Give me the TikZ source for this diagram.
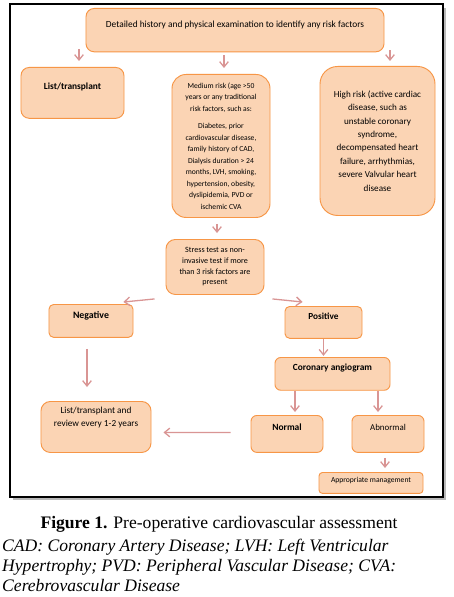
\documentclass[tikz,border=0pt]{standalone}
\usepackage{fontspec}
\setmainfont{Liberation Serif}
\newfontfamily\boxfont{Carlito}
\usetikzlibrary{arrows.meta,positioning,calc}
\definecolor{boxfill}{HTML}{FBD4B4}
\definecolor{boxline}{HTML}{F79646}
\definecolor{arrowc}{HTML}{D99594}

\begin{document}
\begin{tikzpicture}[x=0.03cm, y=-0.03cm,
  box/.style={draw=boxline, fill=boxfill, line width=0.8pt, rounded corners=7pt, align=center, anchor=north, inner xsep=2pt, font=\boxfont\fontsize{8}{11}\selectfont},
  tbox/.style={box, inner ysep=0pt},
  bfont/.style={font=\boxfont\bfseries\fontsize{#1}{11}\selectfont},
  arr/.style={-{Straight Barb[length=1.6mm,width=2.6mm]}, draw=arrowc, line width=1.1pt}
]
\useasboundingbox (0,0) rectangle (453,597);
% frame with its shadow
\fill[gray!55] (13,8) rectangle (446,500);
\draw[fill=white, line width=0.9pt] (10,4) rectangle (443,497);

% first row
\node[tbox, minimum width=8.94cm, text height=16pt, text depth=21pt] (hist) at (235,8) {Detailed history and physical examination to identify any risk factors};
\node[tbox, minimum width=3.09cm, text height=18.7pt, text depth=24.7pt, bfont=8] (list) at (72.5,67) {List/transplant};
\node[box, minimum width=2.94cm, minimum height=4.29cm, rounded corners=12pt, font=\boxfont\fontsize{6.5}{9.8}\selectfont] (medium) at (221,74) {Medium risk (age >50\\years or any traditional\\risk factors, such as:\\[5pt]Diabetes, prior\\cardiovascular disease,\\family history of CAD,\\Dialysis duration > 24\\months, LVH, smoking,\\hypertension, obesity,\\dyslipidemia, PVD or\\ischemic CVA};
\node[box, minimum width=3.45cm, minimum height=4.47cm, rounded corners=15pt, font=\boxfont\fontsize{7.8}{11.4}\selectfont] (high) at (377.5,66) {High risk (active cardiac\\disease, such as\\unstable coronary\\syndrome,\\decompensated heart\\failure, arrhythmias,\\severe Valvular heart\\disease};

% stress test and its results
\node[box, minimum width=2.94cm, minimum height=1.65cm, rounded corners=8pt, font=\boxfont\fontsize{6.9}{9.1}\selectfont] (stress) at (215,239) {Stress test as non-\\invasive test if more\\than 3 risk factors are\\present};
\node[tbox, minimum width=2.52cm, text height=11.9pt, text depth=16.2pt, rounded corners=4pt, bfont=8.4] (negative) at (91,304) {Negative};
\node[tbox, minimum width=2.31cm, text height=11pt, text depth=16.2pt, rounded corners=4pt, bfont=7.9] (positive) at (323.5,306) {Positive};
\node[tbox, minimum width=3.45cm, text height=11pt, text depth=17pt, rounded corners=5pt, bfont=8] (coronary) at (332.5,357) {Coronary angiogram};

% last row
\node[box, minimum width=3.3cm, minimum height=1.53cm, rounded corners=8pt, font=\boxfont\fontsize{7.9}{11}\selectfont] (listrev) at (96,401) {List/transplant and\\review every 1-2 years\\[6pt]};
\node[tbox, minimum width=2.16cm, text height=12.8pt, text depth=18.7pt, rounded corners=5pt, bfont=8.1] (normal) at (287,415) {Normal};
\node[tbox, minimum width=2.16cm, text height=12.8pt, text depth=18.7pt, rounded corners=5pt, font=\boxfont\fontsize{7.6}{11}\selectfont] (abnormal) at (388,415) {Abnormal};
\node[tbox, minimum width=3.12cm, text height=8.5pt, text depth=9.4pt, rounded corners=3pt, font=\boxfont\fontsize{6.5}{8}\selectfont] (appr) at (371,472) {Appropriate management};

% connectors
\draw[arr] ($(hist.south -| list.north)+(6.5,-3)$) -- ($(list.north)+(6.5,-6)$);
\draw[arr] ($(hist.south -| medium.north)+(3,3)$) -- ($(medium.north)+(3,-6)$);
\draw[arr] ($(hist.south -| high.north)+(12.5,-2)$) -- ($(high.north)+(12.5,-5)$);
\draw[arr] ($(medium.south -| stress.north)+(2,6)$) -- ($(stress.north)+(2,-6)$);
\draw[arr] ($(stress.south west)+(-11,4)$) -- ($(negative.north east)+(-10,-2)$);
\draw[arr] ($(stress.south east)+(8,4)$) -- ($(positive.north west)+(18,-4)$);
\draw[arr] ($(negative.south)+(-4,11)$) -- ($(listrev.north)+(-9,-14)$);
\draw[arr, shorten >=1pt] (positive.south) -- (positive.south |- coronary.north);
\draw[arr] ($(coronary.south -| normal.north)+(8,0)$) -- ($(normal.north)+(8,-3)$);
\draw[arr] ($(coronary.south -| abnormal.north)+(-10,0)$) -- ($(abnormal.north)+(-10,-3)$);
\draw[arr] ($(normal.west)+(-20,-1.5)$) -- ($(listrev.east)+(12,5.5)$);
\draw[arr] ($(abnormal.south)+(-3,5)$) -- ($(appr.north -| abnormal.south)+(-3,-4)$);

% caption
\node[anchor=base, inner sep=0pt, font=\fontsize{15}{17}\selectfont] (fig) at (219,528) {\textbf{Figure 1.} Pre-operative cardiovascular assessment};
\node[anchor=north west, align=left, inner sep=0pt, font=\itshape\fontsize{15}{17}\selectfont] (abbr) at (2,539) {CAD: Coronary Artery Disease; LVH: Left Ventricular\\Hypertrophy; PVD: Peripheral Vascular Disease; CVA:\\Cerebrovascular Disease};
\end{tikzpicture}
\end{document}
